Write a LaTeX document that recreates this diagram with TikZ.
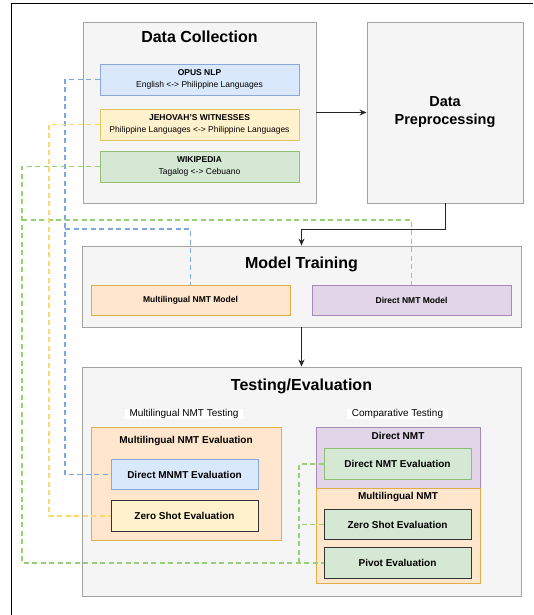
\documentclass[tikz,border=0pt]{standalone}
\usepackage{fontspec}
\setmainfont{Liberation Sans}
\usetikzlibrary{arrows.meta}
\definecolor{contfill}{HTML}{F5F5F5}
\definecolor{contdraw}{HTML}{A3A3A3}
\definecolor{bluefill}{HTML}{DAE8FC}
\definecolor{bluedraw}{HTML}{8AA8D8}
\definecolor{yelfill}{HTML}{FFF2CC}
\definecolor{yeldraw}{HTML}{E3C366}
\definecolor{grnfill}{HTML}{D5E8D4}
\definecolor{grndraw}{HTML}{8FBF75}
\definecolor{orgfill}{HTML}{FFE6CC}
\definecolor{orgdraw}{HTML}{E0AE48}
\definecolor{purfill}{HTML}{E1D5E7}
\definecolor{purdraw}{HTML}{A888B8}
\definecolor{darkdraw}{HTML}{333333}
\definecolor{dblue}{HTML}{7EA6E0}
\definecolor{dyel}{HTML}{FFD966}
\definecolor{dgrn}{HTML}{97D077}
\tikzset{
  box/.style={draw, rectangle, inner sep=0pt, align=center, line width=0.9pt},
  container/.style={box, fill=contfill, draw=contdraw},
  ttl/.style={inner sep=0pt, font=\fontsize{16}{19}\selectfont\bfseries},
  srcbox/.style={box, minimum width=199pt, minimum height=31pt, font=\fontsize{8.5}{12}\selectfont},
  modelbox/.style={box, minimum width=199pt, minimum height=30pt, font=\fontsize{8.5}{10}\selectfont\bfseries},
  evalbox/.style={box, minimum width=147pt, minimum height=30.5pt, font=\fontsize{10}{12}\selectfont\bfseries},
  subttl/.style={inner sep=0pt, font=\fontsize{10}{12}\selectfont\bfseries},
  lbl/.style={fill=white, inner xsep=5pt, inner ysep=0.8pt, font=\fontsize{10}{12}\selectfont},
  flow/.style={draw=black!85, line width=0.9pt, -{Stealth[length=7pt,width=6pt]}},
  link/.style={line width=1.4pt, dash pattern=on 5pt off 3.5pt}
}
\begin{document}
\begin{tikzpicture}[x=1pt,y=-1pt]
\useasboundingbox (0,0) rectangle (534,615);
% outer frame
\draw[line width=1pt] (11,615) -- (11,4) -- (533,4);

% containers
\node[container, minimum width=233pt, minimum height=181pt] (dc) at (199.5,112.5) {};
\node[ttl] (dctitle) at (199.5,37) {Data Collection};
\node[container, minimum width=156pt, minimum height=181pt,
      font=\fontsize{14.5}{18}\selectfont\bfseries] (dp) at (445,112.5) {Data\\Preprocessing};
\node[container, minimum width=439pt, minimum height=81pt] (mt) at (301.5,286.5) {};
\node[ttl] (mttitle) at (301.5,264) {Model Training};
\node[container, minimum width=439pt, minimum height=229pt] (te) at (301.5,481.5) {};
\node[ttl] (tetitle) at (301.5,386) {Testing/Evaluation};

% data sources
\node[srcbox, fill=bluefill, draw=bluedraw] (opus) at (199.5,79.5)
  {{\bfseries OPUS NLP}\\English <-> Philippine Languages};
\node[srcbox, fill=yelfill, draw=yeldraw] (jw) at (199.5,124.5)
  {{\bfseries JEHOVAH'S WITNESSES}\\Philippine Languages <-> Philippine Languages};
\node[srcbox, fill=grnfill, draw=grndraw] (wiki) at (199.5,166.5)
  {{\bfseries WIKIPEDIA}\\Tagalog <-> Cebuano};

% models
\node[modelbox, fill=orgfill, draw=orgdraw] (mnmtm) at (190.5,300) {Multilingual NMT Model};
\node[modelbox, fill=purfill, draw=purdraw] (dnmtm) at (411.5,300) {Direct NMT Model};

% testing labels
\node[lbl] (lblmt) at (184,414) {Multilingual NMT Testing};
\node[lbl] (lblct) at (397.5,414) {Comparative Testing};

% multilingual evaluation group
\node[box, fill=orgfill, draw=orgdraw, minimum width=190pt, minimum height=113pt] (mne) at (186,483.5) {};
\node[subttl] (mnetitle) at (186,441) {Multilingual NMT Evaluation};
\node[evalbox, fill=bluefill, draw=bluedraw] (dmnmt) at (184.5,474.5) {Direct MNMT Evaluation};
\node[evalbox, fill=yelfill, draw=darkdraw] (zsl) at (184.5,516) {Zero Shot Evaluation};

% comparative group
\node[box, fill=purfill, draw=purdraw, minimum width=164pt, minimum height=61pt] (dnmt) at (398,457.5) {};
\node[subttl] (dnmttitle) at (398,436) {Direct NMT};
\node[evalbox, fill=grnfill, draw=grndraw] (dnmte) at (397.5,464) {Direct NMT Evaluation};
\node[box, fill=orgfill, draw=orgdraw, minimum width=164pt, minimum height=95pt] (mn) at (398,535.5) {};
\node[subttl] (mntitle) at (398,497) {Multilingual NMT};
\node[evalbox, fill=grnfill, draw=darkdraw] (zsr) at (397.5,524.5) {Zero Shot Evaluation};
\node[evalbox, fill=grnfill, draw=darkdraw] (piv) at (397.5,563) {Pivot Evaluation};

% flow arrows
\draw[flow] (dc.east) -- (dp.west);
\draw[flow] (dp.south) -- ++(0,26) -| (mt.north);
\draw[flow] (mt.south) -- (te.north);

% dashed links
\coordinate (bj) at (65,229);
\coordinate (gj) at (22,220);
\coordinate (gb) at (299,563);
\draw[link, dgrn] (gj) -| (dnmtm.north);
\draw[link, dblue] (opus.west) -- (65,79.5) |- (dmnmt.west);
\draw[link, dblue] (bj) -| (mnmtm.north);
\draw[link, dyel] (jw.west) -- (49,124.5) |- (zsl.west);
\draw[link, dgrn] (wiki.west) -- (22,166.5) |- (piv.west);
\draw[link, dgrn] (dnmte.west) -| (gb);
\draw[link, dgrn] (zsr.west) -- (zsr.west -| gb);
\end{tikzpicture}
\end{document}
